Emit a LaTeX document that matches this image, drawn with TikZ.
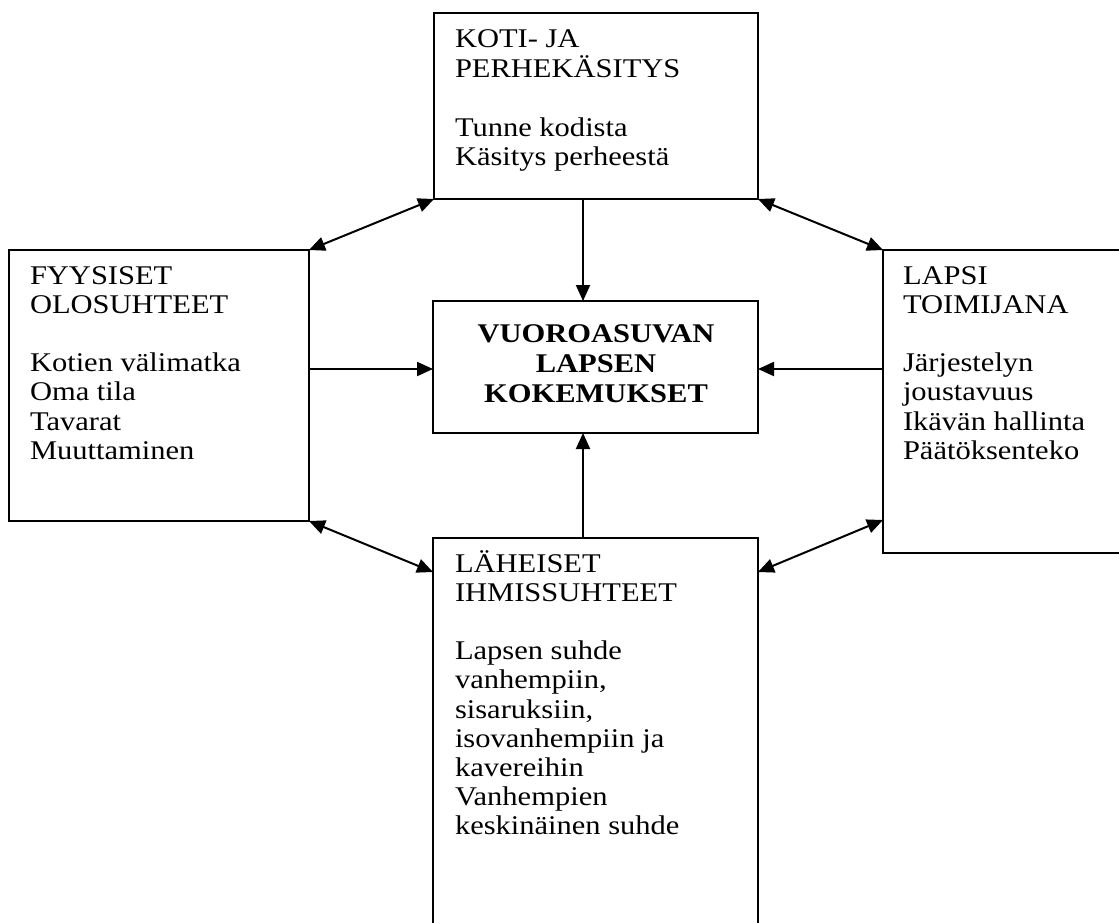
\documentclass[tikz,border=0pt]{standalone}
\usepackage{fontspec}
\setmainfont{Liberation Serif}[FakeStretch=1.13]
\usetikzlibrary{arrows.meta,calc}
\tikzset{
  frame/.style={draw=black, line width=1pt, fill=none, inner sep=0pt, outer sep=0pt},
  lbl/.style={inner sep=0pt, outer sep=0pt, font=\fontsize{13.5}{14.6}\selectfont},
  ctr/.style={inner sep=0pt, outer sep=0pt, font=\fontsize{13.5}{15}\selectfont\bfseries},
  arr/.style={line width=1pt, -{Triangle[length=8pt,width=7pt]}},
  darr/.style={line width=1pt, {Triangle[length=8pt,width=7pt]}-{Triangle[length=8pt,width=7pt]}},
}
\newcommand{\boxat}[5]{%
  \node[frame, anchor=north west, minimum width={(#4-#2)*0.5pt}, minimum height={(#5-#3)*0.5pt}] (#1) at (#2,#3) {};}
\begin{document}
\begin{tikzpicture}[x=0.5pt,y=-0.5pt]
\useasboundingbox (0,0) rectangle (1119,922);
% boxes
\boxat{top}{434}{13}{758}{199}
\boxat{left}{9}{250}{309}{521}
\boxat{center}{433}{301}{758}{433}
\boxat{right}{883}{250}{1125}{553}
\boxat{bottom}{433}{538}{758}{935}
% texts
\node[lbl, anchor=base west] (ttop) at (455,47) {\begin{tabular}[t]{@{}l@{}}KOTI- JA\\ PERHEKÄSITYS\\ \\ Tunne kodista\\ Käsitys perheestä\end{tabular}};
\node[lbl, anchor=base west] (tleft) at (30,284) {\begin{tabular}[t]{@{}l@{}}FYYSISET\\ OLOSUHTEET\\ \\ Kotien välimatka\\ Oma tila\\ Tavarat\\ Muuttaminen\end{tabular}};
\node[lbl, anchor=base west] (tright) at (903,284) {\begin{tabular}[t]{@{}l@{}}LAPSI\\ TOIMIJANA\\ \\ Järjestelyn\\ joustavuus\\ Ikävän hallinta\\ Päätöksenteko\end{tabular}};
\node[lbl, anchor=base west] (tbottom) at (455,572) {\begin{tabular}[t]{@{}l@{}}LÄHEISET\\ IHMISSUHTEET\\ \\ Lapsen suhde\\ vanhempiin,\\ sisaruksiin,\\ isovanhempiin ja\\ kavereihin\\ Vanhempien\\ keskinäinen suhde\end{tabular}};
\node[ctr, anchor=base] (tcenter) at (596,342) {\begin{tabular}[t]{@{}c@{}}VUOROASUVAN\\ LAPSEN\\ KOKEMUKSET\end{tabular}};
% helper coordinates
\coordinate (vx) at (583,0);
\coordinate (hy) at (0,369);
\coordinate (ly) at (0,572);
\coordinate (ry) at (0,520);
% straight arrows into the centre
\draw[arr] (top.south -| vx) -- (center.north -| vx);
\draw[arr] (bottom.north -| vx) -- (center.south -| vx);
\draw[arr] (left.east |- hy) -- (center.west |- hy);
\draw[arr] (right.west |- hy) -- (center.east |- hy);
% double arrows
\draw[darr] (left.north east) -- (top.south west);
\draw[darr] (top.south east) -- (right.north west);
\draw[darr] (left.south east) -- (bottom.west |- ly);
\draw[darr] (right.west |- ry) -- (bottom.east |- ly);
\end{tikzpicture}
\end{document}
